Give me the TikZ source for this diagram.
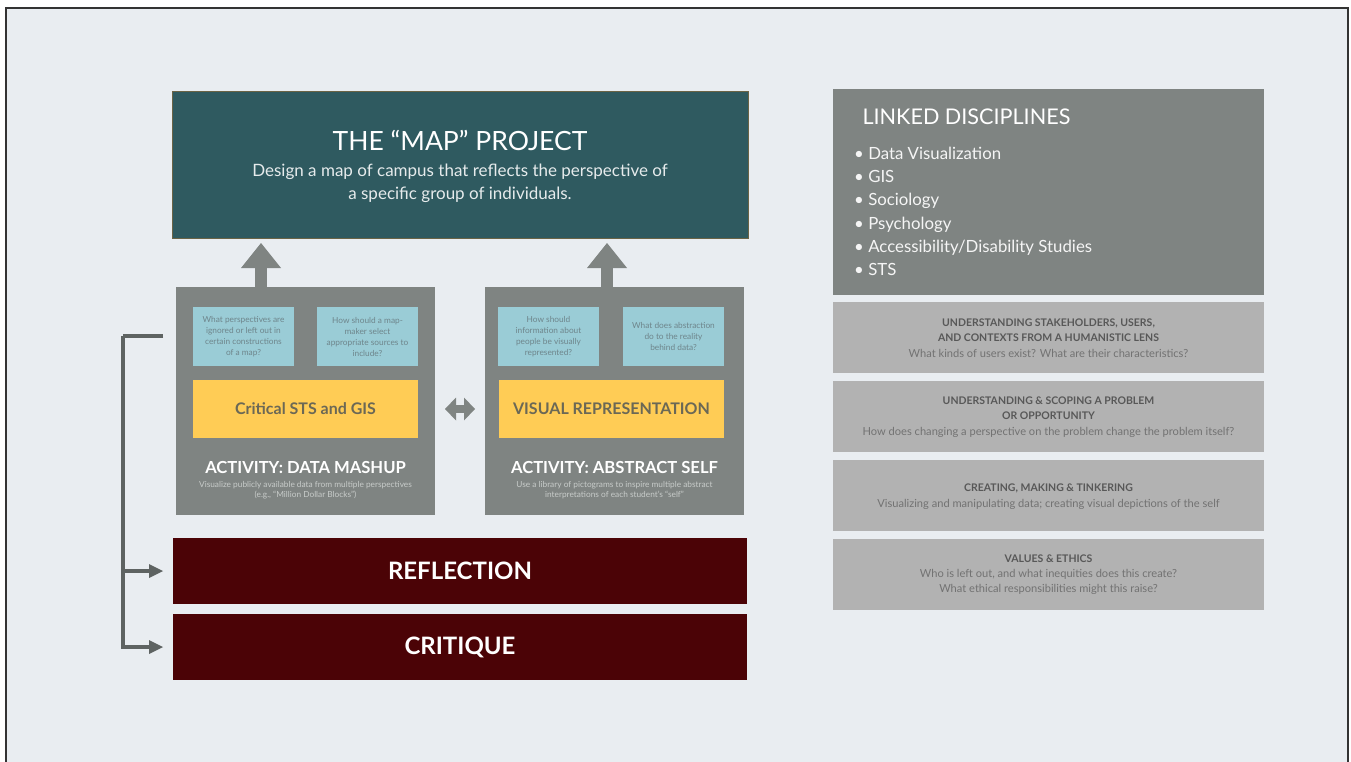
\documentclass[tikz,border=0pt]{standalone}
\usepackage{fontspec}
\setmainfont{Lato}
\usetikzlibrary{arrows.meta,calc}
\definecolor{bgc}{HTML}{E9EDF1}
\definecolor{teal}{HTML}{2F5A60}
\definecolor{tealb}{HTML}{6B6446}
\definecolor{actg}{HTML}{7F8482}
\definecolor{qblue}{HTML}{9ACCD6}
\definecolor{qtext}{HTML}{6E858B}
\definecolor{yel}{HTML}{FFCC55}
\definecolor{yeltext}{HTML}{6B6855}
\definecolor{desc}{HTML}{C8CCCA}
\definecolor{maroon}{HTML}{4B0306}
\definecolor{brk}{HTML}{5E6362}
\definecolor{lgray}{HTML}{B2B2B2}
\definecolor{ltitle}{HTML}{585858}
\definecolor{lsub}{HTML}{727272}
\begin{document}
\begin{tikzpicture}[x=1pt,y=-1pt,
  box/.style={inner sep=0pt,outer sep=0pt,anchor=north west},
  qbox/.style={box,fill=qblue,minimum width=101pt,minimum height=59pt},
  qtxt/.style={text=qtext,font=\fontsize{8.3}{11}\selectfont,align=center},
  ybox/.style={box,fill=yel,minimum width=225pt,minimum height=58pt,text=yeltext,font=\bfseries\fontsize{16}{19}\selectfont},
  actbox/.style={box,fill=actg,minimum width=259pt,minimum height=228pt},
  acttitle/.style={text=white,font=\bfseries\fontsize{16.6}{19}\selectfont},
  actdesc/.style={text=desc,font=\fontsize{8.3}{10}\selectfont,align=center},
  redbox/.style={box,fill=maroon,minimum width=574pt,minimum height=66pt,text=white,font=\bfseries\fontsize{24}{28}\selectfont},
  gbox/.style={box,fill=lgray,minimum width=431pt,minimum height=71pt},
  gtitle/.style={text=ltitle,font=\bfseries\fontsize{10.5}{14.5}\selectfont,align=center},
  gsub/.style={text=lsub,font=\fontsize{11.1}{15.5}\selectfont,align=center},
  uparrow/.style={draw=actg,line width=12pt,-{Triangle[width=40pt,length=25pt,line width=0pt]},shorten >=5pt},
  brkline/.style={draw=brk,line width=3.5pt},
  brkarrow/.style={brkline,-{Triangle[width=14pt,length=14pt,line width=0pt]},shorten >=10pt},
  lr/.style={draw=actg,line width=8pt,{Triangle[width=23pt,length=11pt,line width=0pt]}-{Triangle[width=23pt,length=11pt,line width=0pt]},shorten >=10pt,shorten <=10pt}
]
\useasboundingbox (0,0) rectangle (1351,762);
\fill[white] (0,0) rectangle (1351,762);
\draw[fill=bgc,draw=black!80,line width=1.2pt] (6,8) rectangle (1348,770);

% map project
\node[box,fill=teal,draw=tealb,line width=0.8pt,minimum width=576pt,minimum height=147pt] (map) at (172,91) {};
\node[text=white,font=\fontsize{26.5}{28}\selectfont] (mapt) at (460,140) {THE “MAP” PROJECT};
\node[text=white!88!teal,font=\fontsize{17}{23.5}\selectfont,align=center] (maps) at (460,183.5) {Design a map of campus that reflects the perspective of\\a specific group of individuals.};

% activity boxes
\node[actbox] (la) at (176,287) {};
\node[actbox] (ra) at (485,287) {};

\node[qbox] (q1) at (193,307) {};
\node[qtxt] at (q1.center) {What perspectives are\\ignored or left out in\\certain constructions\\of a map?};
\node[qbox] (q2) at (317,307) {};
\node[qtxt] at (q2.center) {How should a map-\\maker select\\appropriate sources to\\include?};
\node[qbox] (q3) at (498,307) {};
\node[qtxt] at (q3.center) {How should\\information about\\people be visually\\represented?};
\node[qbox] (q4) at (623,307) {};
\node[qtxt] at (q4.center) {What does abstraction\\do to the reality\\behind data?};

\node[ybox] (y1) at (193,380) {Critical STS and GIS};
\node[ybox] (y2) at (499,380) {VISUAL REPRESENTATION};

\node[acttitle] (at1) at (305.5,467) {ACTIVITY: DATA MASHUP};
\node[actdesc] (ad1) at (305.5,490) {Visualize publicly available data from multiple perspectives\\(e.g., “Million Dollar Blocks”)};
\node[acttitle] (at2) at (614.5,467) {ACTIVITY: ABSTRACT SELF};
\node[actdesc] (ad2) at (614.5,490) {Use a library of pictograms to inspire multiple abstract\\interpretations of each student’s “self”};

% arrows up
\draw[uparrow] (la.north -| 261,0) -- (map.south -| 261,0);
\draw[uparrow] (ra.north -| 607,0) -- (map.south -| 607,0);
% double arrow
\draw[lr] (la.east |- y1.center) -- (ra.west |- y1.center);

% reflection / critique
\node[redbox] (refl) at (173,538) {REFLECTION};
\node[redbox] (crit) at (173,614) {CRITIQUE};

% bracket
\coordinate (bs) at (163,336);
\coordinate (bk) at (123,336);
\draw[brkline] (bs) -- (bk);
\draw[brkarrow] (bk) |- (crit.west);
\draw[brkarrow] (bk |- refl.west) -- (refl.west);

% linked disciplines
\node[box,fill=actg,minimum width=431pt,minimum height=206pt] (ld) at (833,89) {};
\node[anchor=west,text=white,font=\fontsize{21.6}{24}\selectfont] (ldt) at (859,117) {LINKED DISCIPLINES};
\node[anchor=north west,text=white!92!actg,font=\fontsize{16.8}{23.2}\selectfont,align=left,inner sep=0pt] (ldl) at (854,147)
 {• Data Visualization\\• GIS\\• Sociology\\• Psychology\\• Accessibility/Disability Studies\\• STS};

% gray boxes
\node[gbox] (g1) at (833,302) {};
\node[gtitle] at (1048.5,330) {UNDERSTANDING STAKEHOLDERS, USERS,\\AND CONTEXTS FROM A HUMANISTIC LENS};
\node[gsub] at (1048.5,353) {What kinds of users exist? What are their characteristics?};
\node[gbox] (g2) at (833,381) {};
\node[gtitle] at (1048.5,408) {UNDERSTANDING \& SCOPING A PROBLEM\\OR OPPORTUNITY};
\node[gsub] at (1048.5,432) {How does changing a perspective on the problem change the problem itself?};
\node[gbox] (g3) at (833,460) {};
\node[gtitle] at (1048.5,488) {CREATING, MAKING \& TINKERING};
\node[gsub] at (1048.5,504) {Visualizing and manipulating data; creating visual depictions of the self};
\node[gbox] (g4) at (833,539) {};
\node[gtitle] at (1048.5,559) {VALUES \& ETHICS};
\node[gsub] at (1048.5,582) {Who is left out, and what inequities does this create?\\What ethical responsibilities might this raise?};
\end{tikzpicture}
\end{document}
